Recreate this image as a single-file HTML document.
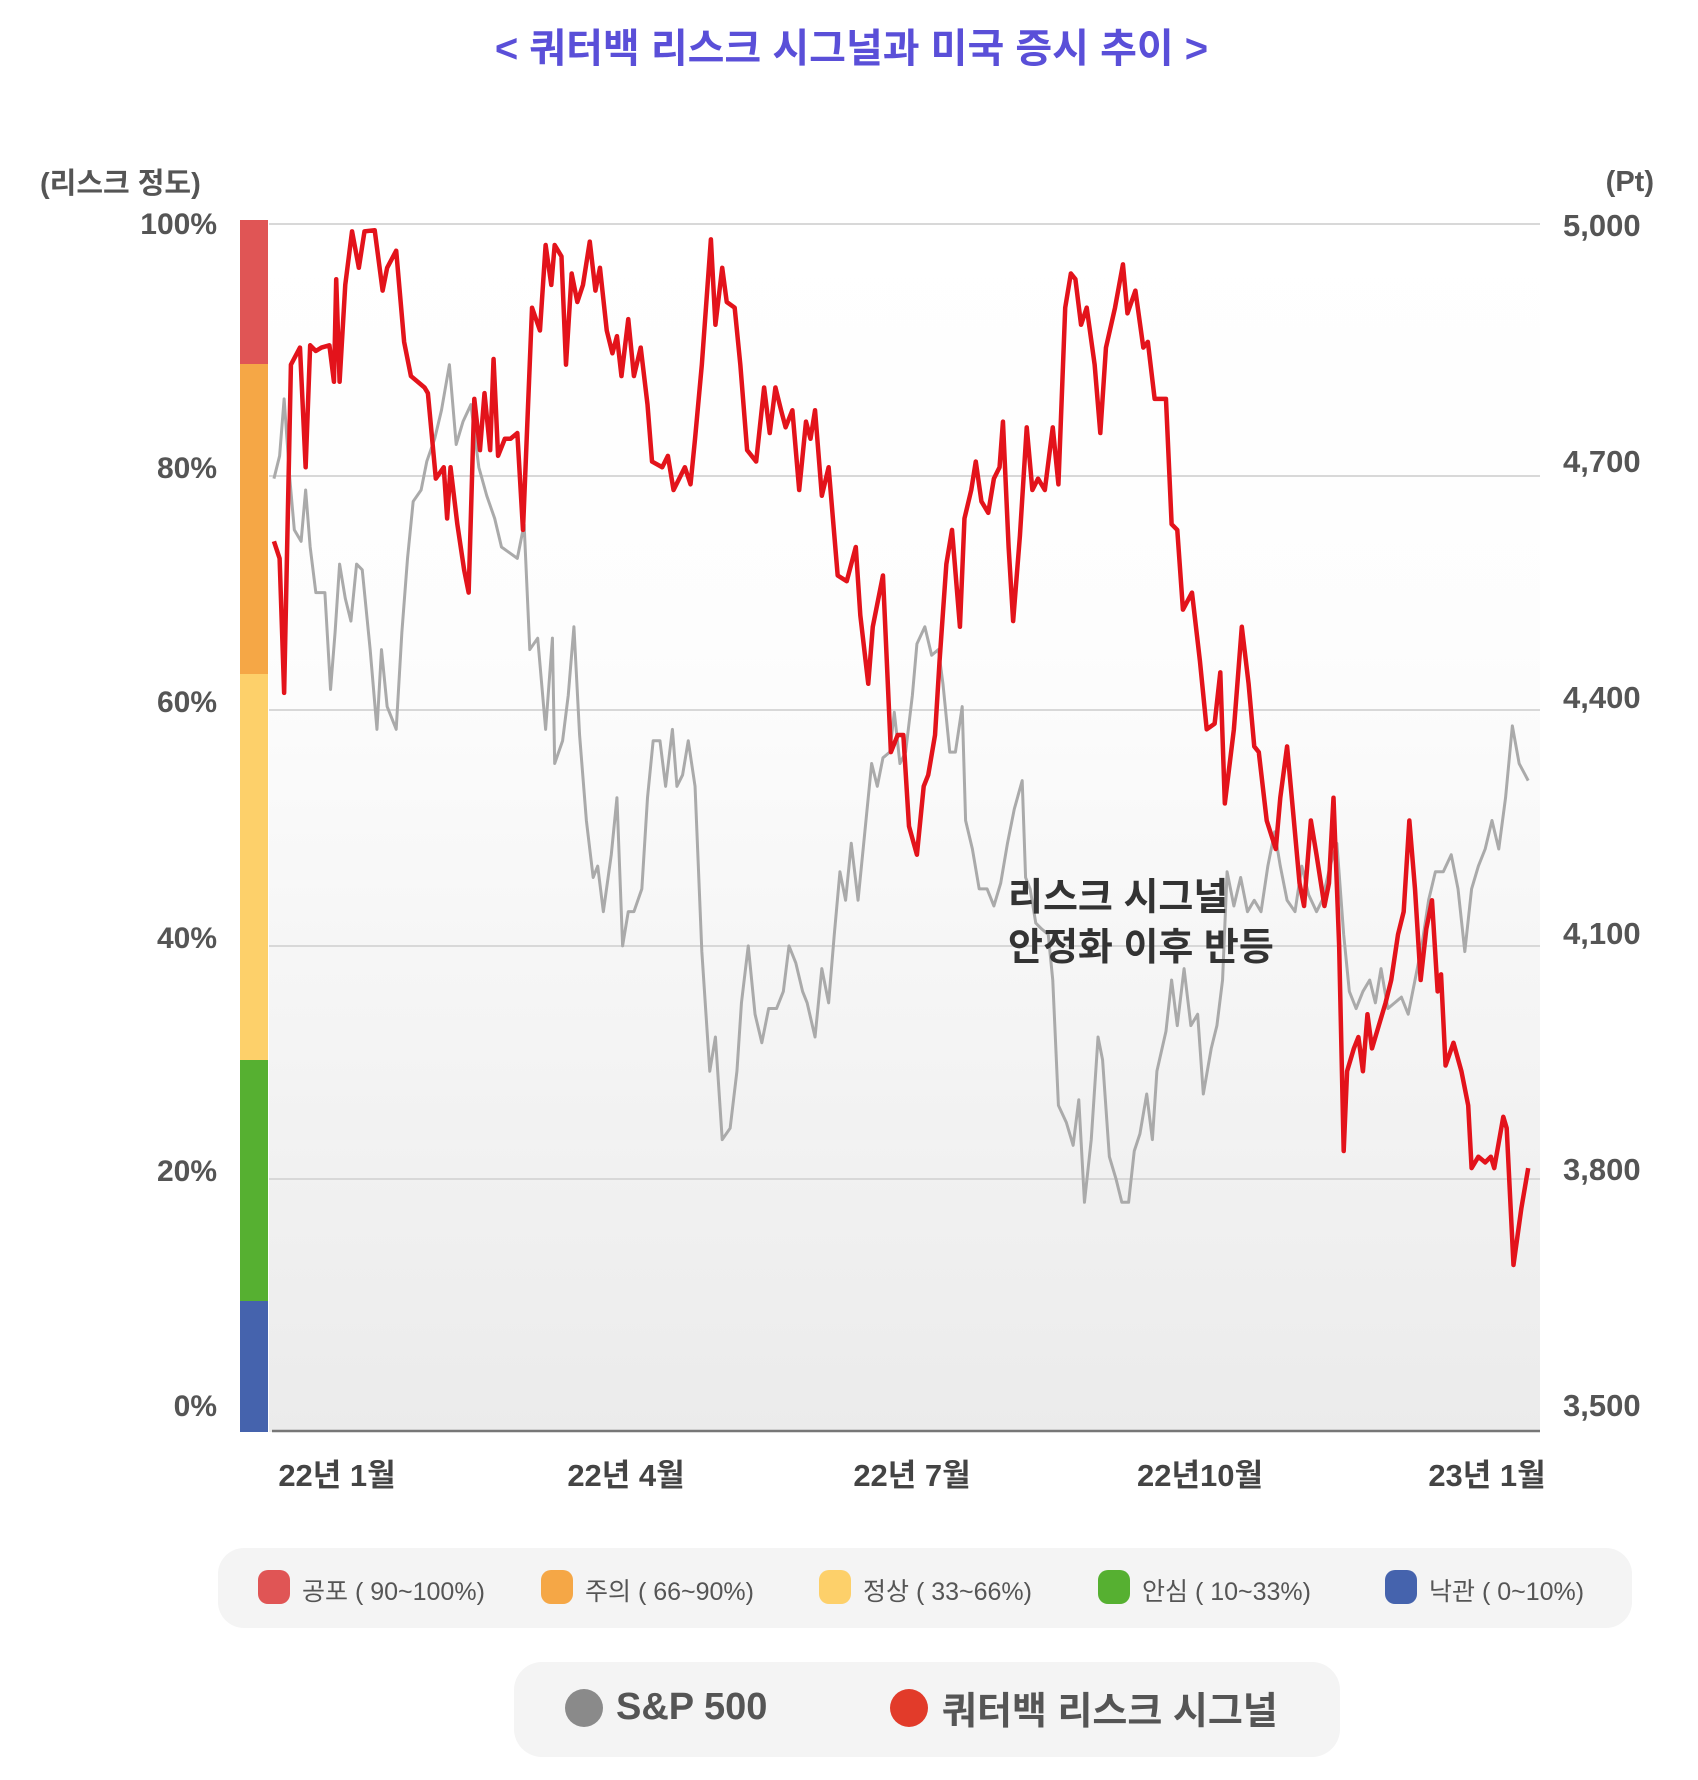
<!DOCTYPE html>
<html><head><meta charset="utf-8">
<style>
html,body{margin:0;padding:0;background:#fff;}
body{width:1698px;height:1780px;position:relative;overflow:hidden;font-family:"Liberation Sans","Noto Sans CJK KR",sans-serif;}
.t{position:absolute;white-space:nowrap;}
</style></head><body>
<svg width="1698" height="1780" style="position:absolute;left:0;top:0">
<defs>
<linearGradient id="bg" x1="0" y1="0" x2="0" y2="1">
<stop offset="0" stop-color="#ffffff"/>
<stop offset="0.35" stop-color="#fdfdfd"/>
<stop offset="1" stop-color="#ebebeb"/>
</linearGradient>
</defs>
<rect x="269" y="224" width="1271" height="1208" fill="url(#bg)"/>
<g stroke="#d8d8d8" stroke-width="2">
<line x1="269" y1="224" x2="1540" y2="224"/>
<line x1="269" y1="476" x2="1540" y2="476"/>
<line x1="269" y1="710" x2="1540" y2="710"/>
<line x1="269" y1="946" x2="1540" y2="946"/>
<line x1="269" y1="1179" x2="1540" y2="1179"/>
</g>
<line x1="272" y1="1431" x2="1540" y2="1431" stroke="#777" stroke-width="2.5"/>
<rect x="240" y="220" width="28" height="144" fill="#e05555"/>
<rect x="240" y="364" width="28" height="310" fill="#f5a746"/>
<rect x="240" y="674" width="28" height="386" fill="#fdd06a"/>
<rect x="240" y="1060" width="28" height="241" fill="#56b031"/>
<rect x="240" y="1301" width="28" height="131" fill="#4563ad"/>
<g transform="scale(1.132 1.1396)" fill="none" stroke-linejoin="round">
<polyline vector-effect="non-scaling-stroke" stroke="#aaaaaa" stroke-width="3" points="242,420 247,400 251,350 256,420 260,465 266,475 270,430 274,480 279,520 287,520 292,605 296,555 300,495 305,525 310,545 315,495 320,500 327,570 333,640 337,570 342,620 350,640 355,555 360,490 365,440 372,430 377,405 384,385 390,360 397,320 403,390 409,370 416,355 423,410 430,435 437,455 443,480 450,485 457,490 463,460 468,570 475,560 482,640 488,560 490,670 497,650 502,610 507,550 512,645 518,720 524,770 528,760 533,800 540,750 545,700 550,830 555,800 560,800 567,780 572,700 577,650 583,650 588,690 594,640 598,690 603,680 608,650 614,690 620,835 627,940 632,910 638,1000 645,990 651,940 655,880 661,830 667,890 673,915 679,885 686,885 692,870 697,830 703,845 709,870 713,880 720,910 726,850 732,880 737,820 742,765 747,790 752,740 758,790 764,730 770,670 775,690 780,665 786,660 790,625 795,670 800,660 806,610 810,565 817,550 823,575 829,570 833,600 839,660 844,660 850,620 853,720 859,745 865,780 872,780 878,795 884,775 890,740 896,710 903,685 906,770 910,780 915,810 920,815 926,820 930,860 935,970 942,985 948,1005 953,965 958,1055 964,1000 970,910 974,930 980,1015 986,1035 991,1055 997,1055 1002,1010 1007,995 1013,960 1018,1000 1022,940 1030,905 1035,860 1040,900 1046,850 1052,900 1058,890 1063,960 1070,920 1075,900 1080,860 1084,765 1090,795 1096,770 1102,800 1108,790 1114,800 1120,760 1126,730 1131,760 1137,790 1144,800 1150,760 1156,785 1163,800 1168,790 1175,760 1181,740 1187,820 1192,870 1198,885 1204,870 1210,860 1215,880 1220,850 1226,885 1232,880 1238,875 1244,890 1250,860 1256,830 1262,790 1268,765 1275,765 1282,750 1288,780 1294,835 1300,780 1306,760 1312,745 1318,720 1324,745 1330,700 1336,637 1342,670 1350,685"/>
<polyline vector-effect="non-scaling-stroke" stroke="#e3131b" stroke-width="4.5" points="242,475 247,490 251,608 257,320 265,305 270,410 274,303 279,308 284,305 291,303 295,335 297,245 300,335 305,250 311,203 317,235 322,203 331,202 338,255 342,235 350,220 357,300 363,330 375,340 378,345 385,420 392,410 395,455 398,410 404,460 410,500 414,520 419,350 424,395 428,345 433,395 436,315 440,400 446,385 451,385 457,380 462,465 470,270 477,290 482,215 487,250 490,215 496,225 500,320 505,240 510,265 515,250 521,212 526,255 530,235 536,290 541,310 545,295 549,330 555,280 560,330 566,305 572,355 576,405 585,410 590,400 595,430 600,420 605,410 610,425 614,385 620,320 628,210 632,285 638,235 642,265 649,270 654,320 660,395 668,405 675,340 680,380 685,340 690,360 694,375 700,360 706,430 712,370 716,385 720,360 726,435 732,410 740,505 748,510 756,480 760,540 767,600 771,550 780,505 787,660 793,645 798,645 803,725 810,750 816,690 820,680 826,645 830,580 836,495 841,465 848,550 852,455 858,430 862,405 867,440 873,450 878,420 883,410 886,370 891,480 895,545 901,470 907,375 912,430 917,420 923,430 930,375 935,425 941,270 946,240 950,245 955,285 960,270 967,320 972,380 977,305 985,270 992,232 996,275 1003,255 1010,305 1014,300 1020,350 1030,350 1035,460 1040,465 1045,535 1053,520 1060,580 1066,640 1073,635 1078,590 1082,705 1090,640 1097,550 1103,600 1108,655 1112,660 1119,720 1127,745 1131,700 1137,655 1143,720 1148,775 1152,795 1158,720 1163,750 1170,795 1174,775 1178,700 1183,830 1187,1010 1190,940 1196,920 1200,910 1204,940 1208,890 1212,920 1218,900 1224,880 1229,860 1235,820 1240,800 1245,720 1250,780 1255,860 1260,815 1265,790 1270,870 1273,855 1277,935 1284,915 1291,940 1297,970 1300,1025 1306,1015 1312,1020 1317,1015 1320,1025 1328,980 1331,990 1337,1110 1344,1060 1350,1025"/>
</g>
<rect x="218" y="1548" width="1414" height="80" rx="26" fill="#f4f4f4"/>
<rect x="514" y="1662" width="826" height="95" rx="28" fill="#f4f4f4"/>
<rect x="258" y="1570" width="32" height="34" rx="10" fill="#e05555"/>
<rect x="541" y="1570" width="32" height="34" rx="10" fill="#f5a746"/>
<rect x="819" y="1570" width="32" height="34" rx="10" fill="#fdd06a"/>
<rect x="1098" y="1570" width="32" height="34" rx="10" fill="#56b031"/>
<rect x="1385" y="1570" width="32" height="34" rx="10" fill="#4563ad"/>
<circle cx="584" cy="1708" r="19" fill="#8a8a8a"/>
<circle cx="909" cy="1708" r="19" fill="#e23b2a"/>
</svg>
<div class="t" style="left:474px;top:24px;width:755px;text-align:center;font-size:40px;font-weight:bold;color:#5a4fd8;line-height:50px">&lt; 쿼터백 리스크 시그널과 미국 증시 추이 &gt;</div>
<div class="t" style="left:40px;top:160px;font-size:29px;font-weight:bold;color:#555;">(리스크 정도)</div>
<div class="t" style="right:44px;top:166px;font-size:29px;font-weight:bold;color:#555;">(Pt)</div>
<div style="position:absolute;left:80px;width:137px;text-align:right;font-size:30px;font-weight:bold;color:#555;">
<div class="t" style="right:0;top:208px">100%</div>
<div class="t" style="right:0;top:452px">80%</div>
<div class="t" style="right:0;top:686px">60%</div>
<div class="t" style="right:0;top:922px">40%</div>
<div class="t" style="right:0;top:1155px">20%</div>
<div class="t" style="right:0;top:1390px">0%</div>
</div>
<div style="font-size:31px;font-weight:bold;color:#555;">
<div class="t" style="left:1563px;top:208px">5,000</div>
<div class="t" style="left:1563px;top:444px">4,700</div>
<div class="t" style="left:1563px;top:680px">4,400</div>
<div class="t" style="left:1563px;top:916px">4,100</div>
<div class="t" style="left:1563px;top:1152px">3,800</div>
<div class="t" style="left:1563px;top:1388px">3,500</div>
</div>
<div style="font-size:31px;font-weight:bold;color:#444;">
<div class="t" style="left:277px;top:1450px;width:120px;text-align:center">22년 1월</div>
<div class="t" style="left:561px;top:1450px;width:130px;text-align:center">22년 4월</div>
<div class="t" style="left:847px;top:1450px;width:130px;text-align:center">22년 7월</div>
<div class="t" style="left:1130px;top:1450px;width:140px;text-align:center">22년10월</div>
<div class="t" style="left:1422px;top:1450px;width:130px;text-align:center">23년 1월</div>
</div>
<div class="t" style="left:1008px;top:873px;font-size:38px;font-weight:bold;color:#333;line-height:50px">리스크 시그널<br>안정화 이후 반등</div>
<div style="font-size:25px;color:#555;">
<div class="t" style="left:302px;top:1572px">공포 ( 90~100%)</div>
<div class="t" style="left:585px;top:1572px">주의 ( 66~90%)</div>
<div class="t" style="left:863px;top:1572px">정상 ( 33~66%)</div>
<div class="t" style="left:1142px;top:1572px">안심 ( 10~33%)</div>
<div class="t" style="left:1429px;top:1572px">낙관 ( 0~10%)</div>
</div>
<div class="t" style="left:616px;top:1686px;font-size:38px;font-weight:bold;color:#555;">S&amp;P 500</div>
<div class="t" style="left:942px;top:1680px;font-size:38px;font-weight:bold;color:#555;">쿼터백 리스크 시그널</div>
</body></html>
